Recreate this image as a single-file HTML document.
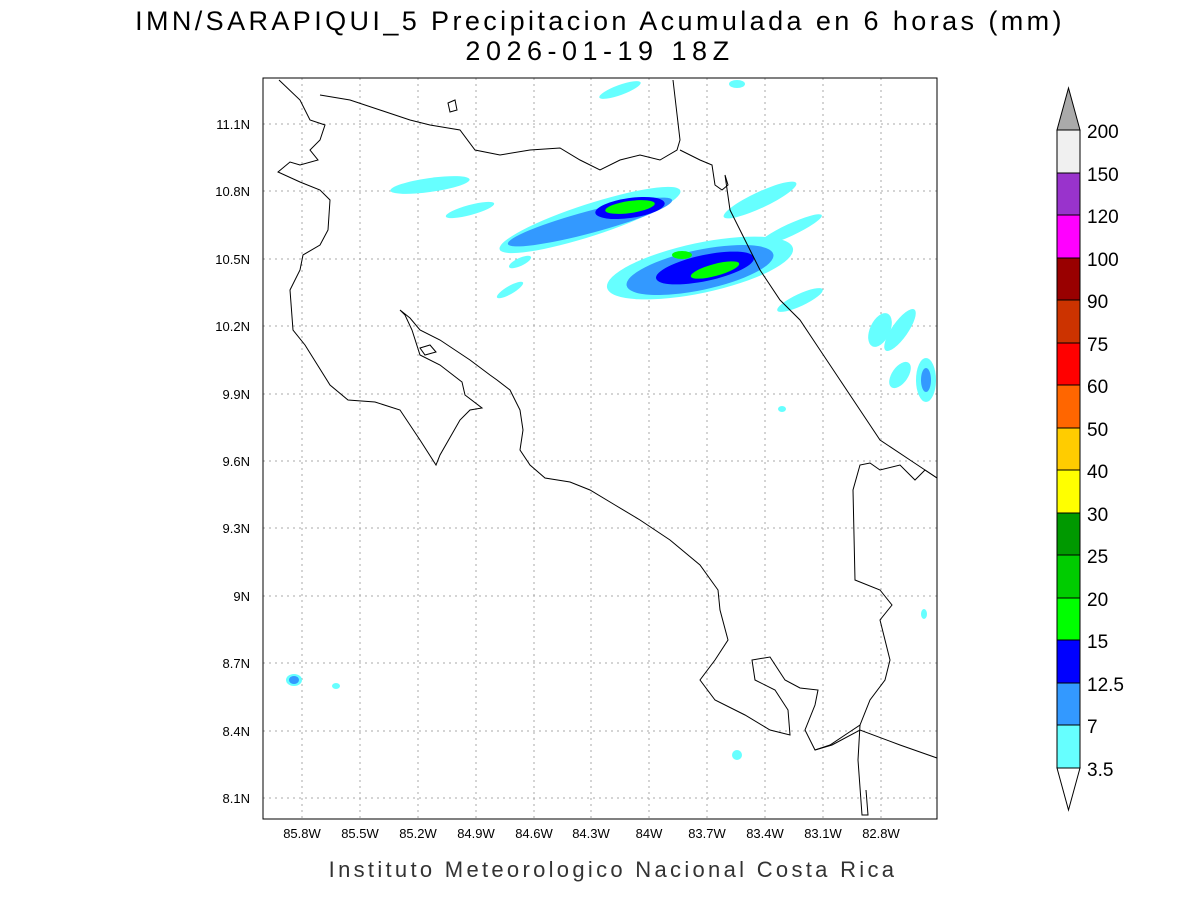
<!DOCTYPE html>
<html><head><meta charset="utf-8"><style>
body{margin:0;background:#fff;}
svg text{font-family:"Liberation Sans",sans-serif;}
</style></head><body>
<svg width="1200" height="900" viewBox="0 0 1200 900" xmlns="http://www.w3.org/2000/svg">
<rect width="1200" height="900" fill="#fff"/>
<text x="600" y="30" font-size="27" text-anchor="middle" fill="#000" letter-spacing="3.4">IMN/SARAPIQUI_5 Precipitacion Acumulada en 6 horas (mm)</text>
<text x="600" y="60" font-size="27" text-anchor="middle" fill="#000" letter-spacing="5.5">2026-01-19 18Z</text>
<g stroke="#aaa" stroke-width="1" stroke-dasharray="2,4">
<line x1="302" y1="78" x2="302" y2="819"/><line x1="360" y1="78" x2="360" y2="819"/><line x1="418" y1="78" x2="418" y2="819"/><line x1="476" y1="78" x2="476" y2="819"/><line x1="534" y1="78" x2="534" y2="819"/><line x1="591" y1="78" x2="591" y2="819"/><line x1="649" y1="78" x2="649" y2="819"/><line x1="707" y1="78" x2="707" y2="819"/><line x1="765" y1="78" x2="765" y2="819"/><line x1="823" y1="78" x2="823" y2="819"/><line x1="881" y1="78" x2="881" y2="819"/>
<line x1="263" y1="124" x2="937" y2="124"/><line x1="263" y1="191" x2="937" y2="191"/><line x1="263" y1="259" x2="937" y2="259"/><line x1="263" y1="326" x2="937" y2="326"/><line x1="263" y1="394" x2="937" y2="394"/><line x1="263" y1="461" x2="937" y2="461"/><line x1="263" y1="528" x2="937" y2="528"/><line x1="263" y1="596" x2="937" y2="596"/><line x1="263" y1="663" x2="937" y2="663"/><line x1="263" y1="731" x2="937" y2="731"/><line x1="263" y1="798" x2="937" y2="798"/>
</g>
<g>
<ellipse cx="430" cy="185" rx="40" ry="7" fill="#66ffff" transform="rotate(-8 430 185)"/>
<ellipse cx="470" cy="210" rx="25" ry="5" fill="#66ffff" transform="rotate(-15 470 210)"/>
<ellipse cx="590" cy="220" rx="95" ry="16" fill="#66ffff" transform="rotate(-18 590 220)"/>
<ellipse cx="590" cy="222" rx="85" ry="11" fill="#3399ff" transform="rotate(-15 590 222)"/>
<ellipse cx="630" cy="208" rx="35" ry="10" fill="#0000ff" transform="rotate(-8 630 208)"/>
<ellipse cx="630" cy="207" rx="25" ry="6" fill="#00ff00" transform="rotate(-8 630 207)"/>
<ellipse cx="520" cy="262" rx="12" ry="4" fill="#66ffff" transform="rotate(-25 520 262)"/>
<ellipse cx="510" cy="290" rx="15" ry="4" fill="#66ffff" transform="rotate(-30 510 290)"/>
<ellipse cx="700" cy="268" rx="95" ry="25" fill="#66ffff" transform="rotate(-12 700 268)"/>
<ellipse cx="700" cy="270" rx="75" ry="20" fill="#3399ff" transform="rotate(-12 700 270)"/>
<ellipse cx="705" cy="268" rx="50" ry="13" fill="#0000ff" transform="rotate(-12 705 268)"/>
<ellipse cx="715" cy="270" rx="25" ry="6" fill="#00ff00" transform="rotate(-15 715 270)"/>
<ellipse cx="682" cy="255" rx="10" ry="4" fill="#00ff00"/>
<ellipse cx="760" cy="200" rx="40" ry="8" fill="#66ffff" transform="rotate(-25 760 200)"/>
<ellipse cx="790" cy="230" rx="35" ry="6" fill="#66ffff" transform="rotate(-25 790 230)"/>
<ellipse cx="800" cy="300" rx="25" ry="6" fill="#66ffff" transform="rotate(-25 800 300)"/>
<ellipse cx="880" cy="330" rx="10" ry="18" fill="#66ffff" transform="rotate(25 880 330)"/>
<ellipse cx="900" cy="330" rx="8" ry="25" fill="#66ffff" transform="rotate(35 900 330)"/>
<ellipse cx="900" cy="375" rx="8" ry="15" fill="#66ffff" transform="rotate(35 900 375)"/>
<ellipse cx="926" cy="380" rx="10" ry="22" fill="#66ffff"/>
<ellipse cx="926" cy="380" rx="5" ry="12" fill="#3399ff"/>
<ellipse cx="620" cy="90" rx="22" ry="5" fill="#66ffff" transform="rotate(-20 620 90)"/>
<ellipse cx="737" cy="84" rx="8" ry="4" fill="#66ffff"/>
<ellipse cx="294" cy="680" rx="8" ry="6" fill="#66ffff"/><ellipse cx="294" cy="680" rx="5" ry="4" fill="#3399ff"/>
<ellipse cx="336" cy="686" rx="4" ry="3" fill="#66ffff"/>
<ellipse cx="737" cy="755" rx="5" ry="5" fill="#66ffff"/>
<ellipse cx="924" cy="614" rx="3" ry="5" fill="#66ffff"/>
<ellipse cx="782" cy="409" rx="4" ry="3" fill="#66ffff"/>
</g>
<g fill="none" stroke="#000" stroke-width="1">
<polyline points="279,80 300,100 310,120 325,125 320,140 310,150 318,160 300,165 290,162 278,172 300,182 320,190 330,200 328,230 320,245 303,255 300,270 290,290 293,330 305,345 330,385 348,400 375,402 400,410 420,440 436,465 440,455 460,420 470,410 482,408 465,395 462,382 440,365 420,355 412,330 405,315 400,310 410,318 420,330 440,340 470,360 490,375 497,380 510,390 520,410 523,430 520,450 530,465 545,478 570,482 590,490 615,505 640,520 670,540 700,565 718,590 720,610 728,640 715,660 700,680 715,700 745,715 770,730 790,735 788,710 775,690 755,680 752,660 770,657 785,680 800,688 818,690 815,705 805,730 815,750 830,745 845,735 860,725 870,700 885,680 890,660 885,640 880,620 892,605 880,590 855,580 853,490 860,465 870,463 880,470 900,465 915,480 925,470 937,478"/>
<polyline points="815,750 832,745 860,730 900,745 937,758"/>
<polyline points="860,725 858,760 862,815 868,815 866,790"/>
<polyline points="320,95 350,100 380,110 410,120 430,125 460,130 475,150 500,155 530,150 560,148 580,160 600,170 620,160 640,155 660,160 677,150 680,140 673,80"/>
<polyline points="680,150 700,160 712,165 715,185 722,190 728,185 725,175 730,210 745,240 760,270 780,300 800,320 820,350 840,380 860,410 880,440 910,460 937,478"/>
<polygon points="448,103 455,100 457,110 450,112"/>
<polygon points="420,348 430,345 436,352 425,355"/>
</g>
<rect x="263" y="78" width="674" height="741" fill="none" stroke="#000" stroke-width="1"/>
<g font-size="13" fill="#000" text-anchor="middle">
<text x="302" y="838">85.8W</text><text x="360" y="838">85.5W</text><text x="418" y="838">85.2W</text><text x="476" y="838">84.9W</text><text x="534" y="838">84.6W</text><text x="591" y="838">84.3W</text><text x="649" y="838">84W</text><text x="707" y="838">83.7W</text><text x="765" y="838">83.4W</text><text x="823" y="838">83.1W</text><text x="881" y="838">82.8W</text>
</g>
<g font-size="13" fill="#000" text-anchor="end">
<text x="250" y="129">11.1N</text><text x="250" y="196">10.8N</text><text x="250" y="264">10.5N</text><text x="250" y="331">10.2N</text><text x="250" y="399">9.9N</text><text x="250" y="466">9.6N</text><text x="250" y="533">9.3N</text><text x="250" y="601">9N</text><text x="250" y="668">8.7N</text><text x="250" y="736">8.4N</text><text x="250" y="803">8.1N</text>
</g>
<text x="613" y="877" font-size="22" text-anchor="middle" fill="#333" letter-spacing="3.3">Instituto Meteorologico Nacional Costa Rica</text>
<g stroke="#000" stroke-width="1">
<polygon points="1057,130 1080,130 1068.5,88" fill="#aaaaaa"/>
<rect x="1057" y="130" width="23" height="43" fill="#f0f0f0"/>
<rect x="1057" y="173" width="23" height="42" fill="#9933cc"/>
<rect x="1057" y="215" width="23" height="43" fill="#ff00ff"/>
<rect x="1057" y="258" width="23" height="42" fill="#990000"/>
<rect x="1057" y="300" width="23" height="43" fill="#cc3300"/>
<rect x="1057" y="343" width="23" height="42" fill="#ff0000"/>
<rect x="1057" y="385" width="23" height="43" fill="#ff6600"/>
<rect x="1057" y="428" width="23" height="42" fill="#ffcc00"/>
<rect x="1057" y="470" width="23" height="43" fill="#ffff00"/>
<rect x="1057" y="513" width="23" height="42" fill="#009900"/>
<rect x="1057" y="555" width="23" height="43" fill="#00cc00"/>
<rect x="1057" y="598" width="23" height="42" fill="#00ff00"/>
<rect x="1057" y="640" width="23" height="43" fill="#0000ff"/>
<rect x="1057" y="683" width="23" height="42" fill="#3399ff"/>
<rect x="1057" y="725" width="23" height="43" fill="#66ffff"/>
<polygon points="1057,768 1080,768 1068.5,810" fill="#fff"/>
</g>
<g font-size="19" fill="#000">
<text x="1087" y="138">200</text><text x="1087" y="181">150</text><text x="1087" y="223">120</text><text x="1087" y="266">100</text><text x="1087" y="308">90</text><text x="1087" y="351">75</text><text x="1087" y="393">60</text><text x="1087" y="436">50</text><text x="1087" y="478">40</text><text x="1087" y="521">30</text><text x="1087" y="563">25</text><text x="1087" y="606">20</text><text x="1087" y="648">15</text><text x="1087" y="691">12.5</text><text x="1087" y="733">7</text><text x="1087" y="776">3.5</text>
</g>
</svg>
</body></html>
